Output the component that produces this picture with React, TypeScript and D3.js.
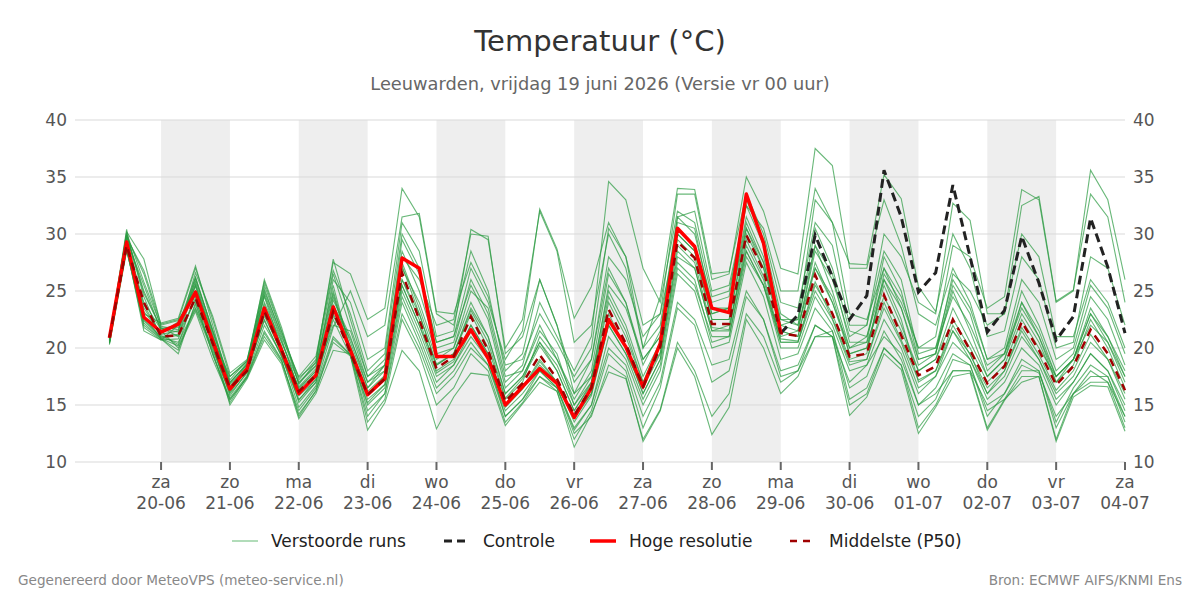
import React from 'react';
import * as d3 from 'd3';

const width = 1200;
const height = 600;
const plot = { left: 75, right: 1125, top: 120, bottom: 462 };

// run of 19-06 00 uur, 6-hourly steps starting 19-06 06:00
const runStart = Date.UTC(2026, 5, 19, 6);
const stepHours = 6;
const weekdays = ['zo', 'ma', 'di', 'wo', 'do', 'vr', 'za'];
const yTicks = [10, 15, 20, 25, 30, 35, 40];

const hogeResolutie = [
  20.9, 29.3, 22.7, 21.4, 22.1, 24.9, 20.6, 16.4, 18.2, 23.5, 19.8, 16.0, 17.6, 23.6,
  19.8, 15.9, 17.3, 27.9, 27.0, 19.25, 19.25, 21.6, 19.1, 15.0, 16.6, 18.2, 16.9,
  13.9, 16.5, 22.5, 20.1, 16.6, 20.4, 30.5, 28.9, 23.5, 23.1, 33.5, 29.2, 21.3,
];

// control run is drawn from 29-06 00 uur (index 39), before that it is under the HRES line
const controleStart = 39;
const controle = [
  21.3, 22.9, 29.9, 26.25, 22.5, 24.6, 35.6, 31.5, 24.9, 26.6, 34.3, 28.0, 21.4,
  23.3, 29.8, 25.7, 20.7, 22.75, 31.4, 27.1, 21.3,
];

const middelste = [
  20.9, 29.0, 24.0, 21.0, 21.1, 24.4, 20.4, 16.5, 18.0, 23.2, 19.8, 16.2, 17.6, 23.2,
  19.6, 15.9, 17.3, 26.6, 22.5, 18.2, 19.25, 22.75, 19.8, 15.3, 16.9, 19.4, 17.3,
  14.1, 16.5, 23.4, 20.4, 16.6, 20.1, 29.3, 27.9, 22.1, 22.1, 29.9, 26.8, 21.3,
  21.05, 26.4, 23.0, 19.25, 19.5, 24.65, 21.1, 17.6, 18.4, 22.5, 19.8, 16.9, 18.4,
  22.3, 19.8, 16.75, 18.4, 21.6, 19.5, 16.3,
];

const run01 = [
  20.8, 30.2, 27.8, 22.0, 22.4, 27.0, 22.5, 17.5, 18.9, 25.8, 21.5, 17.2, 19.0, 27.5,
  26.5, 22.5, 23.5, 34.0, 31.5, 23.0, 22.0, 28.5, 25.0, 18.0, 19.5, 26.0, 22.0,
  17.0, 19.0, 27.0, 24.0, 19.0, 21.0, 30.5, 29.0, 23.0, 23.5, 31.0, 27.5, 22.0,
  22.5, 29.0, 25.0, 20.0, 21.0, 27.0, 23.5, 18.5, 19.5, 25.0, 21.5, 17.5, 19.0,
  24.0, 21.0, 17.0, 19.0, 23.0, 20.5, 17.0,
];
const run02 = [
  20.5, 29.8, 26.5, 21.8, 21.0, 25.5, 21.0, 16.8, 18.3, 24.5, 20.0, 16.5, 18.0, 26.0,
  24.0, 19.0, 20.0, 31.0, 28.5, 21.0, 21.5, 30.4, 29.5, 20.0, 22.5, 32.0, 28.5,
  20.5, 22.0, 30.0, 27.0, 20.0, 22.0, 31.5, 30.0, 24.0, 24.5, 33.0, 29.5, 23.0,
  22.0, 30.5, 27.0, 21.5, 21.0, 26.0, 22.5, 17.0, 18.0, 21.5, 19.0, 16.0, 17.5,
  21.0, 19.0, 15.5, 17.0, 19.5, 18.0, 14.5,
];
const run03 = [
  20.9, 28.6, 22.0, 20.8, 19.5, 24.0, 19.5, 15.2, 17.5, 21.5, 19.0, 14.0, 16.3, 20.5,
  19.3, 12.8, 15.2, 19.8, 18.0, 12.9, 15.7, 17.8, 17.6, 13.2, 15.1, 17.0, 16.2,
  11.3, 14.2, 17.9, 17.3, 12.0, 14.6, 20.5, 18.0, 14.0, 16.0, 23.0, 21.0, 17.0,
  18.0, 22.0, 21.0, 17.0, 18.5, 21.0, 19.5, 15.0, 16.0, 18.0, 18.0, 15.0, 16.0,
  18.5, 17.8, 14.0, 16.0, 18.0, 17.0, 14.0,
];
const run04 = [
  21.0, 29.0, 23.5, 21.2, 21.5, 26.2, 21.5, 17.0, 18.5, 23.0, 19.5, 15.5, 17.0, 24.5,
  20.5, 16.5, 18.0, 27.5, 23.5, 19.0, 20.0, 24.0, 21.0, 16.0, 17.5, 20.5, 18.5,
  15.0, 17.5, 25.0, 22.0, 17.5, 20.5, 30.0, 28.5, 22.5, 22.5, 30.5, 27.5, 21.5,
  21.0, 27.5, 24.0, 19.5, 20.0, 25.5, 22.0, 18.0, 19.0, 23.5, 20.5, 17.5, 19.0,
  23.0, 20.5, 17.0, 18.5, 22.5, 20.0, 16.5,
];
const run05 = [
  20.6, 30.0, 24.5, 20.9, 20.5, 23.5, 20.0, 16.0, 17.8, 22.5, 19.2, 16.0, 17.5, 22.0,
  21.5, 17.0, 18.5, 25.5, 22.0, 18.5, 19.5, 23.0, 20.0, 15.5, 17.0, 21.0, 19.0,
  16.0, 19.0, 28.0, 26.0, 21.0, 23.0, 33.5, 33.5, 26.0, 26.5, 35.0, 32.0, 27.0,
  26.5, 37.5, 36.0, 27.0, 27.0, 33.0, 29.0, 23.0, 22.0, 27.0, 24.0, 19.0, 19.5,
  24.0, 21.5, 17.5, 19.0, 23.5, 21.0, 17.5,
];
const run06 = [
  20.4, 28.8, 21.5, 20.7, 22.0, 25.0, 20.8, 17.5, 18.8, 24.0, 20.5, 17.0, 18.5, 25.0,
  20.0, 16.0, 17.5, 26.0, 22.5, 18.0, 19.0, 22.0, 19.5, 15.0, 16.5, 18.5, 17.0,
  14.0, 16.0, 22.0, 19.5, 16.5, 19.5, 28.0, 27.0, 21.5, 22.0, 28.5, 25.5, 20.5,
  20.5, 25.5, 23.0, 19.0, 19.5, 26.5, 24.0, 20.0, 21.0, 29.0, 28.0, 23.5, 24.5,
  33.9, 33.0, 24.0, 25.0, 35.6, 33.0, 26.0,
];
const run07 = [
  20.7, 29.5, 25.5, 21.5, 20.0, 23.2, 19.0, 15.5, 17.4, 21.0, 18.8, 14.5, 16.5, 21.0,
  19.4, 14.0, 16.0, 24.0, 20.5, 16.5, 18.0, 20.5, 18.5, 14.5, 16.0, 18.0, 16.5,
  13.0, 15.0, 20.0, 18.5, 14.0, 17.0, 24.0, 22.5, 18.5, 19.0, 25.0, 22.5, 18.0,
  18.5, 22.0, 21.0, 15.0, 16.0, 20.0, 18.5, 13.0, 15.0, 18.0, 18.0, 13.0, 15.5,
  17.0, 17.5, 12.0, 16.0, 17.0, 17.0, 13.0,
];
const run08 = [
  20.9, 30.4, 23.0, 22.2, 22.6, 27.2, 22.0, 16.6, 18.6, 26.0, 21.8, 16.8, 18.8, 27.8,
  22.5, 17.5, 19.0, 28.5, 25.0, 20.0, 20.5, 26.0, 23.0, 17.0, 18.5, 24.0, 21.0,
  18.0, 21.0, 34.6, 33.0, 27.0, 24.0, 32.0, 31.0, 24.5, 25.0, 32.5, 29.0, 22.5,
  22.0, 27.0, 24.0, 20.0, 20.5, 24.5, 21.5, 18.0, 19.0, 22.5, 20.0, 17.0, 18.5,
  22.5, 20.0, 17.5, 19.0, 23.0, 21.0, 18.0,
];
const run09 = [
  20.3, 28.5, 22.5, 21.0, 21.2, 24.2, 20.2, 15.8, 17.9, 22.8, 19.7, 15.8, 17.2, 23.0,
  19.9, 16.2, 17.6, 27.2, 23.0, 18.6, 19.5, 23.3, 20.5, 15.6, 17.3, 20.2, 18.0,
  14.5, 16.8, 24.0, 21.0, 17.0, 19.6, 29.0, 27.5, 21.8, 21.6, 29.5, 26.3, 20.8,
  20.6, 25.8, 22.6, 18.8, 19.0, 24.0, 20.7, 17.2, 18.0, 22.0, 19.4, 16.5, 18.0,
  21.8, 19.4, 16.3, 18.0, 21.2, 19.0, 16.0,
];
const run10 = [
  20.8, 29.2, 24.0, 21.6, 21.8, 25.8, 21.2, 16.3, 18.1, 24.8, 20.8, 16.3, 17.8, 24.2,
  21.0, 16.5, 18.5, 28.0, 26.0, 22.0, 22.5, 30.0, 29.8, 19.5, 21.0, 26.0, 22.0,
  16.0, 17.5, 22.5, 20.0, 16.0, 19.0, 27.5, 26.0, 20.5, 21.0, 28.0, 25.5, 21.0,
  21.5, 28.5, 26.0, 21.0, 22.0, 30.0, 28.0, 24.0, 23.0, 32.7, 31.2, 23.0, 23.0,
  30.0, 28.0, 21.0, 21.0, 26.0, 24.0, 20.0,
];
const run11 = [
  20.6, 29.7, 26.8, 22.1, 22.5, 24.6, 20.4, 15.0, 17.3, 20.7, 18.6, 13.8, 16.0, 19.8,
  19.5, 15.0, 16.5, 24.5, 21.0, 17.0, 18.5, 21.0, 19.0, 14.0, 15.5, 17.5, 16.5,
  12.5, 14.0, 18.5, 17.5, 11.8, 14.5, 20.0, 17.5, 12.4, 14.8, 22.5, 20.0, 16.0,
  17.5, 21.0, 21.0, 14.1, 15.7, 19.5, 18.1, 12.5, 14.8, 17.5, 17.8, 12.8, 15.4,
  17.5, 17.5, 11.8, 15.7, 16.7, 16.6, 12.7,
];
const run12 = [
  20.5, 28.9, 22.8, 20.8, 19.8, 23.8, 19.8, 16.2, 18.0, 23.4, 20.0, 16.6, 18.2, 23.8,
  20.8, 17.0, 18.0, 29.5, 26.5, 20.5, 21.0, 25.5, 22.5, 16.5, 18.0, 22.0, 19.0,
  15.5, 18.0, 26.5, 24.0, 18.5, 21.5, 31.0, 30.5, 23.5, 23.5, 31.5, 28.0, 22.0,
  21.5, 29.0, 26.5, 20.5, 20.5, 28.0, 25.0, 19.0, 19.5, 25.5, 23.0, 18.0, 19.5,
  25.0, 22.0, 18.0, 19.5, 24.5, 22.5, 18.5,
];
const run13 = [
  20.9, 29.9, 24.8, 21.7, 21.4, 26.6, 22.8, 17.8, 19.0, 25.2, 21.0, 17.5, 19.3, 26.8,
  23.0, 18.0, 19.5, 30.0, 27.0, 20.5, 21.0, 27.0, 24.0, 19.0, 21.5, 32.2, 28.7,
  22.6, 25.4, 31.0, 28.0, 22.0, 23.0, 30.0, 28.5, 23.0, 23.5, 30.5, 27.0, 22.5,
  22.5, 33.0, 31.0, 27.4, 27.3, 35.2, 33.1, 25.4, 23.2, 30.0, 27.0, 21.0, 21.5,
  28.0, 26.0, 20.0, 20.5, 28.0, 27.0, 22.0,
];
const run14 = [
  20.7, 29.4, 23.2, 21.3, 22.3, 25.4, 20.7, 16.5, 18.4, 23.8, 20.2, 15.2, 17.0, 22.5,
  19.3, 15.2, 16.8, 25.0, 21.5, 17.5, 18.5, 21.5, 19.0, 14.8, 16.4, 18.8, 17.0,
  13.5, 15.8, 22.0, 19.5, 15.5, 18.5, 27.0, 25.5, 21.0, 21.0, 28.5, 25.5, 20.0,
  20.0, 24.5, 22.0, 18.0, 18.5, 22.5, 20.0, 16.0, 17.5, 20.5, 19.0, 15.5, 17.0,
  20.0, 18.5, 15.0, 17.0, 19.5, 18.0, 15.0,
];
const run15 = [
  20.4, 28.7, 21.8, 20.7, 20.8, 24.4, 19.4, 15.6, 17.6, 22.0, 19.4, 14.8, 16.7, 21.8,
  25.0, 21.0, 22.0, 31.5, 31.8, 23.2, 23.0, 27.5, 24.5, 18.5, 19.0, 23.0, 20.5,
  17.5, 20.0, 30.5, 28.0, 20.0, 24.5, 34.0, 33.9, 26.5, 26.7, 33.5, 30.0, 24.0,
  23.5, 31.0, 29.0, 22.0, 22.0, 28.5, 26.0, 19.5, 20.0, 24.5, 22.0, 18.5, 19.5,
  23.5, 21.0, 17.5, 19.0, 22.0, 20.5, 17.5,
];
const run16 = [
  21.0, 30.1, 25.8, 21.9, 21.6, 25.6, 20.9, 16.9, 18.7, 25.0, 21.2, 16.9, 18.4, 25.5,
  19.8, 14.5, 16.0, 23.0, 20.0, 16.0, 17.5, 20.0, 18.5, 14.0, 15.5, 18.0, 16.5,
  12.8, 15.0, 21.0, 19.0, 15.0, 18.0, 26.5, 25.0, 20.0, 20.5, 27.5, 24.5, 19.0,
  19.5, 23.5, 21.5, 16.5, 17.5, 21.5, 19.0, 15.0, 16.5, 19.5, 18.5, 14.0, 16.0,
  19.0, 18.0, 13.5, 16.5, 18.5, 17.5, 14.0,
];
const run17 = [
  20.6, 29.1, 23.8, 21.1, 20.3, 24.8, 20.3, 16.1, 18.2, 22.4, 19.3, 15.4, 17.3, 22.8,
  20.2, 16.0, 17.5, 26.0, 23.0, 18.5, 19.5, 23.5, 21.0, 16.0, 17.5, 20.5, 18.0,
  14.5, 17.0, 24.5, 21.5, 17.0, 20.5, 29.5, 28.0, 22.5, 22.5, 30.0, 27.0, 21.5,
  21.0, 27.0, 24.5, 19.5, 20.0, 26.0, 23.5, 19.0, 19.5, 26.5, 25.0, 22.0, 23.0,
  32.5, 33.3, 24.1, 25.1, 33.5, 31.5, 24.0,
];
const run18 = [
  20.8, 29.6, 22.4, 20.9, 21.1, 26.0, 21.6, 17.2, 18.9, 24.6, 20.6, 16.4, 18.0, 24.8,
  19.5, 15.5, 16.8, 25.5, 22.0, 17.8, 18.8, 22.0, 19.5, 15.0, 16.5, 19.0, 17.0,
  13.8, 16.0, 23.0, 20.0, 16.0, 19.0, 28.5, 27.0, 21.5, 21.5, 29.0, 26.0, 20.5,
  20.5, 25.0, 22.5, 18.5, 19.0, 23.5, 20.5, 16.5, 17.5, 21.5, 19.5, 16.0, 18.0,
  21.5, 19.0, 16.0, 17.5, 20.5, 19.0, 15.5,
];
const run19 = [
  20.7, 29.9, 25.0, 21.7, 22.0, 26.2, 21.4, 17.0, 18.6, 25.5, 21.4, 17.4, 18.7, 26.5,
  21.8, 17.5, 18.5, 27.0, 24.0, 19.5, 20.0, 25.0, 23.5, 17.5, 18.0, 21.5, 19.5,
  15.0, 17.0, 25.5, 23.5, 19.0, 21.0, 31.5, 32.0, 25.0, 25.5, 32.5, 30.5, 25.0,
  25.0, 34.0, 31.0, 23.0, 22.5, 27.0, 24.5, 20.0, 20.0, 26.0, 23.5, 19.0, 20.0,
  26.0, 24.0, 19.0, 20.0, 25.5, 23.5, 19.5,
];
const run20 = [
  20.5, 28.8, 22.2, 20.8, 20.2, 23.4, 19.6, 15.4, 17.5, 21.3, 18.9, 14.2, 16.2, 20.8,
  19.4, 13.5, 15.5, 22.5, 19.5, 15.0, 16.5, 19.5, 18.0, 13.5, 15.2, 17.5, 16.2,
  12.0, 14.5, 19.5, 18.0, 13.0, 16.5, 23.5, 22.0, 17.0, 18.0, 24.5, 22.5, 17.5,
  18.0, 21.0, 21.5, 15.5, 16.5, 20.0, 18.5, 14.0, 15.5, 19.0, 18.5, 14.5, 15.5,
  18.0, 18.0, 13.0, 16.0, 17.5, 17.5, 13.5,
];

const verstoordeRuns = [
  run01, run02, run03, run04, run05, run06, run07, run08, run09, run10,
  run11, run12, run13, run14, run15, run16, run17, run18, run19, run20,
];

const font = 'DejaVu Sans, Verdana, sans-serif';

const timeAt = (i: number) => new Date(runStart + i * stepHours * 3600 * 1000);

export default function App() {
  const x = d3
    .scaleUtc()
    .domain([new Date(Date.UTC(2026, 5, 18, 18)), new Date(Date.UTC(2026, 6, 4, 0))])
    .range([plot.left, plot.right]);
  const y = d3.scaleLinear().domain([10, 40]).range([plot.bottom, plot.top]);

  const lineFrom = (offset: number) =>
    d3
      .line<number>()
      .x((_, i) => x(timeAt(i + offset)))
      .y((d) => y(d));

  const days = d3.utcDay.range(new Date(Date.UTC(2026, 5, 20)), new Date(Date.UTC(2026, 6, 4, 1)));
  const fmtDate = d3.utcFormat('%d-%m');

  const legendY = 541;
  const legend = [
    { x: 232, label: 'Verstoorde runs', stroke: '#7cc48a', w: 1.2, dash: '' },
    { x: 444, label: 'Controle', stroke: '#222', w: 3, dash: '8,5' },
    { x: 590, label: 'Hoge resolutie', stroke: '#ff0000', w: 3.5, dash: '' },
    { x: 790, label: 'Middelste (P50)', stroke: '#a00000', w: 2.5, dash: '7,6' },
  ];

  return (
    <svg
      width={width}
      height={height}
      style={{ position: 'absolute', left: 0, top: 0, background: '#fff' }}
      fontFamily={font}
    >
      <rect x={0} y={0} width={width} height={height} fill="#fff" />
      <text x={600} y={51} textAnchor="middle" fontSize={29} fill="#333">
        Temperatuur (°C)
      </text>
      <text x={600} y={90} textAnchor="middle" fontSize={17.8} fill="#666">
        Leeuwarden, vrijdag 19 juni 2026 (Versie vr 00 uur)
      </text>

      {days.map((d, k) =>
        k % 2 === 0 && k < days.length - 1 ? (
          <rect
            key={'band' + k}
            x={x(d)}
            y={plot.top}
            width={x(d3.utcDay.offset(d, 1)) - x(d)}
            height={plot.bottom - plot.top}
            fill="#eeeeee"
          />
        ) : null
      )}

      {yTicks.map((t) => (
        <g key={'y' + t}>
          <line x1={plot.left} x2={plot.right} y1={y(t)} y2={y(t)} stroke="#d9d9d9" strokeWidth={1} />
          <text x={67} y={y(t) + 6} textAnchor="end" fontSize={17} fill="#555">
            {t}
          </text>
          <text x={1133} y={y(t) + 6} textAnchor="start" fontSize={17} fill="#555">
            {t}
          </text>
        </g>
      ))}

      {days.map((d) => (
        <g key={'x' + d.getTime()}>
          <line x1={x(d)} x2={x(d)} y1={plot.bottom} y2={plot.bottom + 8} stroke="#666" strokeWidth={2} />
          <text x={x(d)} y={488} textAnchor="middle" fontSize={17} fill="#555">
            {weekdays[d.getUTCDay()]}
          </text>
          <text x={x(d)} y={509} textAnchor="middle" fontSize={17} fill="#555">
            {fmtDate(d)}
          </text>
        </g>
      ))}

      <g fill="none">
        {verstoordeRuns.map((run, k) => (
          <path
            key={'run' + k}
            d={lineFrom(0)(run) || ''}
            stroke="#2a9a40"
            strokeOpacity={0.7}
            strokeWidth={1.1}
          />
        ))}
        <path
          d={lineFrom(controleStart)(controle) || ''}
          stroke="#222"
          strokeWidth={3}
          strokeDasharray="9,5"
        />
        <path d={lineFrom(0)(hogeResolutie) || ''} stroke="#ff0000" strokeWidth={3.5} strokeLinejoin="round" />
        <path
          d={lineFrom(0)(middelste) || ''}
          stroke="#a00000"
          strokeWidth={2.5}
          strokeDasharray="8,6"
        />
      </g>

      {legend.map((l) => (
        <g key={l.label}>
          <line
            x1={l.x}
            x2={l.x + 26}
            y1={legendY}
            y2={legendY}
            stroke={l.stroke}
            strokeWidth={l.w}
            strokeDasharray={l.dash || undefined}
          />
          <text x={l.x + 39} y={legendY + 6} fontSize={17} fill="#222">
            {l.label}
          </text>
        </g>
      ))}

      <text x={18} y={585} fontSize={13.6} fill="#888">
        Gegenereerd door MeteoVPS (meteo-service.nl)
      </text>
      <text x={1182} y={585} textAnchor="end" fontSize={13.6} fill="#888">
        Bron: ECMWF AIFS/KNMI Ens
      </text>
    </svg>
  );
}
